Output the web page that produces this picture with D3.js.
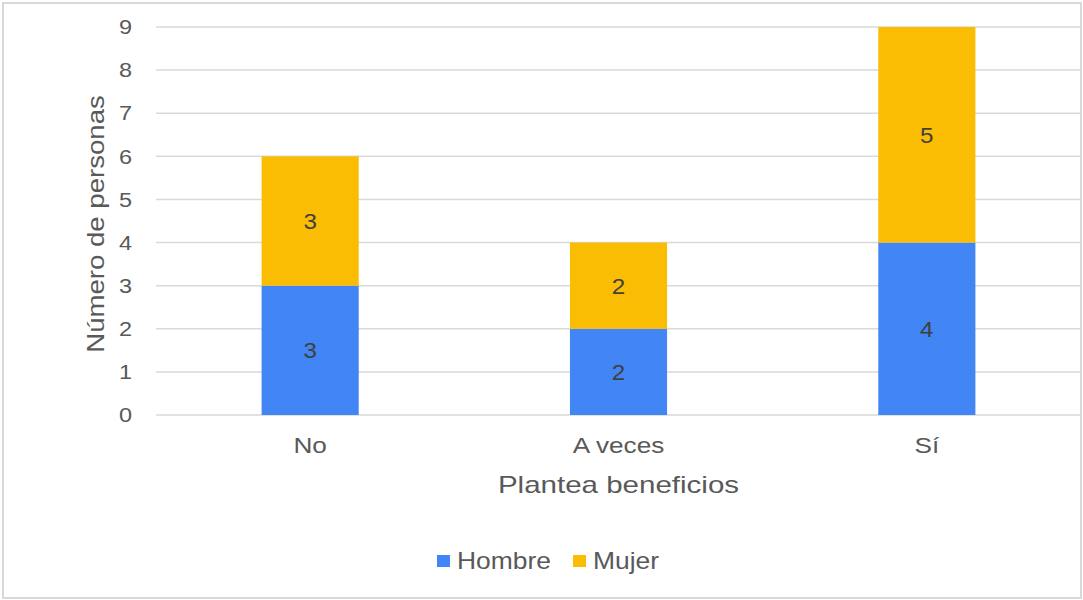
<!DOCTYPE html>
<html>
<head>
<meta charset="utf-8">
<script src="https://d3js.org/d3.v7.min.js"></script>
<style>
  html, body { margin: 0; padding: 0; background: #fff; }
  svg { display: block; font-family: "Liberation Sans", Arial, sans-serif; }
</style>
</head>
<body>
<svg id="chart" width="1083" height="600"></svg>
<script>
// Categories and stacked series values
const categories = ["No", "A veces", "Sí"];
const hombre = [3, 2, 4];
const mujer = [3, 2, 5];
const seriesNames = ["Hombre", "Mujer"];
const seriesColors = ["#4285F4", "#FBBC04"];
const yTicks = [0, 1, 2, 3, 4, 5, 6, 7, 8, 9];

const svg = d3.select("#chart");
const W = 1083, H = 600;
const margin = { left: 156, right: 2 };
const textColor = "#595959";

// Outer frame
svg.append("rect")
  .attr("x", 3).attr("y", 3)
  .attr("width", W - 5).attr("height", H - 5)
  .attr("fill", "#fff")
  .attr("stroke", "#d9d9d9")
  .attr("stroke-width", 2);

const x = d3.scaleBand()
  .domain(categories)
  .range([margin.left, W - margin.right])
  .padding(0);

const y = d3.scaleLinear()
  .domain([0, 9])
  .range([415, 27]);

const barW = x.bandwidth() * 0.315;

// Gridlines
svg.append("g")
  .selectAll("line")
  .data(yTicks)
  .join("line")
  .attr("x1", margin.left)
  .attr("x2", W - margin.right - 1)
  .attr("y1", d => y(d))
  .attr("y2", d => y(d))
  .attr("stroke", "#d9d9d9")
  .attr("stroke-width", 1.5);

// Y axis tick labels
const yAxis = d3.axisLeft(y).tickValues(yTicks).tickSize(0).tickPadding(0).tickFormat(d3.format("d"));
const gy = svg.append("g").attr("transform", "translate(132,0)").call(yAxis);
gy.select(".domain").remove();
gy.selectAll("text")
  .attr("x", 0)
  .attr("transform", "scale(1.12,1)")
  .attr("fill", textColor)
  .style("font-size", "21px")
  .style("font-family", "Liberation Sans, Arial, sans-serif");

// X axis category labels
const xAxis = d3.axisBottom(x).tickSize(0).tickPadding(0);
const gx = svg.append("g").attr("transform", "translate(0,453)").call(xAxis);
gx.select(".domain").remove();
gx.selectAll("text")
  .attr("y", 0)
  .attr("dy", 0)
  .attr("transform", "scale(1.19,1)")
  .attr("fill", textColor)
  .style("font-size", "22px")
  .style("font-family", "Liberation Sans, Arial, sans-serif");
// keep each category label centred on its band after horizontal scaling
gx.selectAll(".tick").each(function (d) {
  const cx = x(d) + x.bandwidth() / 2;
  d3.select(this).attr("transform", `translate(${cx},0)`);
});

// Stacked data
const rows = categories.map((c, i) => ({ cat: c, Hombre: hombre[i], Mujer: mujer[i] }));
const stacked = d3.stack().keys(seriesNames)(rows);

const layers = svg.append("g")
  .selectAll("g")
  .data(stacked)
  .join("g")
  .attr("fill", (d, i) => seriesColors[i]);

layers.selectAll("rect")
  .data(d => d)
  .join("rect")
  .attr("x", d => x(d.data.cat) + x.bandwidth() / 2 - barW / 2)
  .attr("width", barW)
  .attr("y", d => y(d[1]))
  .attr("height", d => y(d[0]) - y(d[1]));

// Value labels inside segments
layers.selectAll("text")
  .data(d => d.map(v => ({ v, key: d.key })))
  .join("text")
  .attr("transform", d => `translate(${x(d.v.data.cat) + x.bandwidth() / 2},${(y(d.v[0]) + y(d.v[1])) / 2}) scale(1.1,1)`)
  .attr("dy", "0.36em")
  .attr("text-anchor", "middle")
  .attr("fill", "#404040")
  .style("font-size", "22px")
  .text(d => d.v.data[d.key]);

// Axis titles
svg.append("text")
  .attr("transform", "translate(104,224) rotate(-90) scale(1.2,1)")
  .attr("text-anchor", "middle")
  .attr("fill", textColor)
  .style("font-size", "23px")
  .text("Número de personas");

svg.append("text")
  .attr("transform", `translate(${(margin.left + W - margin.right) / 2},493) scale(1.23,1)`)
  .attr("text-anchor", "middle")
  .attr("fill", textColor)
  .style("font-size", "24px")
  .text("Plantea beneficios");

// Legend
const legendX = [437, 573];
const legend = svg.append("g")
  .selectAll("g")
  .data(seriesNames)
  .join("g")
  .attr("transform", (d, i) => `translate(${legendX[i]},555)`);
legend.append("rect")
  .attr("width", 13).attr("height", 12)
  .attr("fill", (d, i) => seriesColors[i]);
legend.append("text")
  .attr("transform", "translate(20,13.5) scale(1.15,1)")
  .attr("fill", textColor)
  .style("font-size", "23px")
  .text(d => d);
</script>
</body>
</html>
